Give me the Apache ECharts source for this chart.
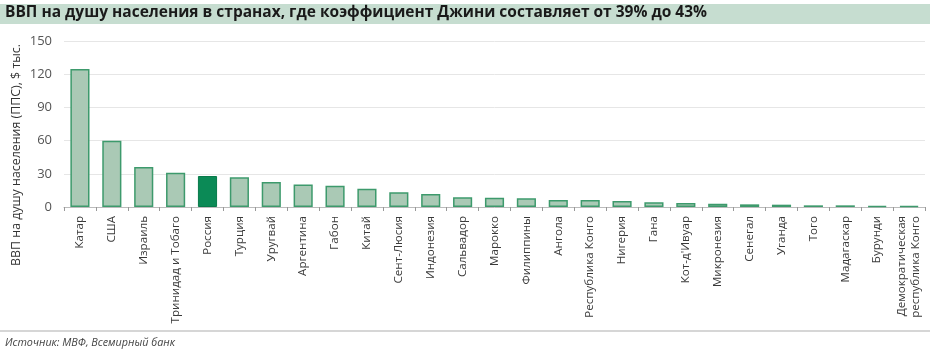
<!DOCTYPE html>
<html><head><meta charset="utf-8">
<script src="https://cdn.jsdelivr.net/npm/echarts@6/dist/echarts.min.js"></script>
<style>html,body{margin:0;padding:0;background:#fff}#c{width:944px;height:357px}</style>
</head><body><div id="c"></div>
<script>
const categories = ['Катар','США','Израиль','Тринидад и Тобаго','Россия','Турция','Уругвай','Аргентина','Габон','Китай','Сент-Люсия','Индонезия','Сальвадор','Марокко','Филиппины','Ангола','Республика Конго','Нигерия','Гана','Кот-д\'Ивуар','Микронезия','Сенегал','Уганда','Того','Мадагаскар','Бурунди','Демократическая\nреспублика Конго'];
const values = [124.7, 59.9, 36.1, 31.0, 28.0, 26.8, 22.6, 20.4, 19.3, 16.6, 13.3, 11.7, 8.7, 8.4, 7.8, 6.3, 6.3, 5.4, 4.2, 3.6, 3.0, 2.4, 2.1, 1.5, 1.5, 0.9, 0.8];
const highlight = 'Россия';
const yTicks = [0, 30, 60, 90, 120, 150];

const chart = echarts.init(document.getElementById('c'), null, {renderer:'canvas'});
chart.setOption({
  animation:false,
  backgroundColor:'#fff',
  graphic:[
    {type:'rect', left:0, top:4, shape:{width:930, height:20}, style:{fill:'#c6ddd0'}},
    {type:'text', left:5, top:5, style:{text:'ВВП на душу населения в странах, где коэффициент Джини составляет от 39% до 43%', font:'bold 15.5px "Open Sans", sans-serif', fill:'#1a1a1a'}},
    {type:'text', x:16, y:155, rotation:Math.PI/2, style:{text:'ВВП на душу населения (ППС), $ тыс.', font:'12.4px "Open Sans", sans-serif', fill:'#333', align:'center', verticalAlign:'middle'}},
    {type:'line', shape:{x1:0, y1:331, x2:930, y2:331}, style:{stroke:'#c8c8c8', lineWidth:1.5}},
    {type:'text', left:5, top:337, style:{text:'Источник: МВФ, Всемирный банк', font:'italic 10.8px "Open Sans", sans-serif', fill:'#444'}}
  ],
  grid:{left:64, right:19, top:41, bottom:150},
  xAxis:{
    type:'category', data:categories,
    axisLine:{lineStyle:{color:'#bbb'}},
    axisTick:{show:true, length:4, lineStyle:{color:'#999'}},
    axisLabel:{rotate:90, interval:0, color:'#3a3a3a', fontSize:11.6, fontFamily:'"Open Sans", sans-serif', lineHeight:14, margin:9}
  },
  yAxis:{
    type:'value', min:0, max:150, interval:30,
    axisLabel:{color:'#555', fontSize:13, fontFamily:'"Open Sans", sans-serif', margin:12,
      formatter:v => yTicks.includes(v) ? String(v) : ''},
    splitLine:{lineStyle:{color:'#e6e6e6'}},
    axisLine:{show:false}, axisTick:{show:false}
  },
  series:[{
    type:'bar', barWidth:'60%',
    data: values.map((v,i)=>({value:v, itemStyle: categories[i]===highlight ? {color:'#0b8a56', borderColor:'#087a4a', borderWidth:1} : {color:'#aac9b5', borderColor:'#3d9a6c', borderWidth:1.5}}))
  }]
});
</script></body></html>
